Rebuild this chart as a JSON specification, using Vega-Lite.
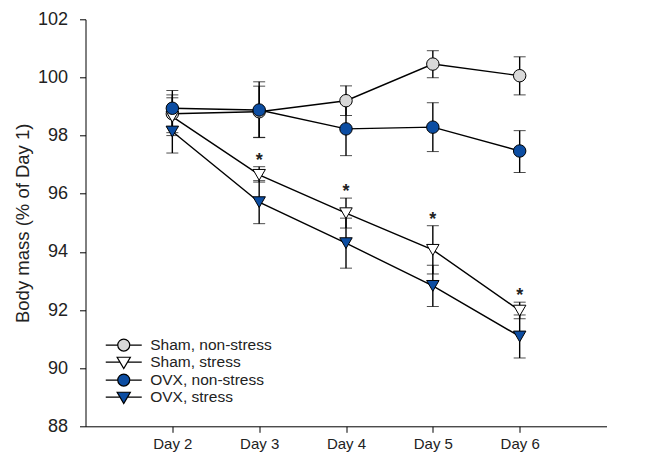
{
  "$schema": "https://vega.github.io/schema/vega-lite/v6.json",
  "width": 521,
  "height": 407,
  "autosize": "none",
  "padding": {"left": 85.5, "top": 19.3, "right": 57.5, "bottom": 27.7},
  "background": "white",
  "config": {
    "view": {"stroke": null},
    "font": "Liberation Sans",
    "axis": {"domainColor": "black", "tickColor": "black", "labelColor": "#222", "titleColor": "#222", "grid": false, "labelFont": "Liberation Sans", "titleFont": "Liberation Sans"},
    "legend": {"labelFont": "Liberation Sans", "symbolStrokeColor": "black", "symbolStrokeWidth": 1.2}
  },
  "data": {
    "values": [
      {"series": "Sham, non-stress", "day": 2, "mean": 98.75, "lo": 98.10, "hi": 99.40, "sig": ""},
      {"series": "Sham, non-stress", "day": 3, "mean": 98.82, "lo": 97.94, "hi": 99.70, "sig": ""},
      {"series": "Sham, non-stress", "day": 4, "mean": 99.20, "lo": 98.69, "hi": 99.71, "sig": ""},
      {"series": "Sham, non-stress", "day": 5, "mean": 100.46, "lo": 99.99, "hi": 100.92, "sig": ""},
      {"series": "Sham, non-stress", "day": 6, "mean": 100.06, "lo": 99.40, "hi": 100.71, "sig": ""},
      {"series": "Sham, stress", "day": 2, "mean": 98.65, "lo": 98.00, "hi": 99.30, "sig": ""},
      {"series": "Sham, stress", "day": 3, "mean": 96.65, "lo": 96.40, "hi": 96.93, "sig": "*"},
      {"series": "Sham, stress", "day": 4, "mean": 95.33, "lo": 94.82, "hi": 95.85, "sig": "*"},
      {"series": "Sham, stress", "day": 5, "mean": 94.07, "lo": 93.24, "hi": 94.90, "sig": "*"},
      {"series": "Sham, stress", "day": 6, "mean": 91.98, "lo": 91.70, "hi": 92.27, "sig": "*"},
      {"series": "OVX, stress", "day": 2, "mean": 98.14, "lo": 97.40, "hi": 98.88, "sig": ""},
      {"series": "OVX, stress", "day": 3, "mean": 95.71, "lo": 94.97, "hi": 96.45, "sig": ""},
      {"series": "OVX, stress", "day": 4, "mean": 94.30, "lo": 93.44, "hi": 95.16, "sig": ""},
      {"series": "OVX, stress", "day": 5, "mean": 92.83, "lo": 92.12, "hi": 93.54, "sig": ""},
      {"series": "OVX, stress", "day": 6, "mean": 91.09, "lo": 90.35, "hi": 91.83, "sig": ""},
      {"series": "OVX, non-stress", "day": 2, "mean": 98.94, "lo": 98.30, "hi": 99.55, "sig": ""},
      {"series": "OVX, non-stress", "day": 3, "mean": 98.88, "lo": 97.93, "hi": 99.85, "sig": ""},
      {"series": "OVX, non-stress", "day": 4, "mean": 98.23, "lo": 97.31, "hi": 99.15, "sig": ""},
      {"series": "OVX, non-stress", "day": 5, "mean": 98.29, "lo": 97.45, "hi": 99.13, "sig": ""},
      {"series": "OVX, non-stress", "day": 6, "mean": 97.47, "lo": 96.73, "hi": 98.17, "sig": ""}
    ]
  },
  "encoding": {
    "x": {
      "field": "day", "type": "quantitative",
      "scale": {"domain": [1, 7], "nice": false, "zero": false},
      "axis": {"title": null, "values": [2, 3, 4, 5, 6], "labelExpr": "'Day ' + datum.value", "tickSize": 6, "labelPadding": 4, "labelFontSize": 15, "grid": false}
    }
  },
  "resolve": {"scale": {"shape": "independent"}, "legend": {"shape": "independent", "fill": "independent"}},
  "layer": [
    {
      "mark": {"type": "line", "color": "black", "strokeWidth": 1.4},
      "encoding": {
        "y": {
          "field": "mean", "type": "quantitative", "title": "Body mass (% of Day 1)",
          "scale": {"domain": [88, 102], "nice": false, "zero": false},
          "axis": {"title": "Body mass (% of Day 1)", "values": [88, 90, 92, 94, 96, 98, 100, 102], "tickSize": 6, "labelPadding": 12, "labelFontSize": 18, "titleFontSize": 18.5, "titleFontWeight": "normal", "titlePadding": 5}
        },
        "detail": {"field": "series"}
      }
    },
    {
      "mark": {"type": "errorbar", "ticks": {"size": 12, "color": "black", "strokeWidth": 1.4}, "rule": {"color": "black", "strokeWidth": 1.4}},
      "encoding": {
        "y": {"field": "lo", "type": "quantitative", "title": "Body mass (% of Day 1)"},
        "y2": {"field": "hi"},
        "detail": {"field": "series"}
      }
    },
    {
      "mark": {"type": "point", "filled": true, "stroke": "black", "strokeWidth": 1, "opacity": 1, "size": 155},
      "encoding": {
        "y": {"field": "mean", "type": "quantitative", "title": "Body mass (% of Day 1)"},
        "fill": {
          "field": "series", "type": "nominal",
          "scale": {"domain": ["Sham, non-stress", "Sham, stress", "OVX, non-stress", "OVX, stress"], "range": ["#d9d9d9", "#ffffff", "#0c4da2", "#0c4da2"]},
          "legend": null
        },
        "shape": {
          "field": "series", "type": "nominal",
          "scale": {"domain": ["Sham, non-stress", "Sham, stress", "OVX, non-stress", "OVX, stress"], "range": ["circle", "triangle-down", "circle", "triangle-down"]},
          "legend": null
        }
      }
    },
    {
      "transform": [{"filter": "datum.day > 100"}],
      "mark": {"type": "point", "filled": true, "stroke": "black", "strokeWidth": 1.2, "opacity": 1, "size": 144},
      "encoding": {
        "y": {"field": "mean", "type": "quantitative", "title": "Body mass (% of Day 1)"},
        "fill": {
          "field": "series", "type": "nominal",
          "scale": {"domain": ["Sham, non-stress", "Sham, stress", "OVX, non-stress", "OVX, stress"], "range": ["#d9d9d9", "#ffffff", "#0c4da2", "#0c4da2"]},
          "legend": {
            "title": null, "orient": "none", "legendX": 30.5, "legendY": 318,
            "symbolSize": 144, "symbolStrokeColor": "black", "symbolStrokeWidth": 1.2, "symbolOpacity": 1,
            "labelFontSize": 15.5, "labelColor": "#222", "labelOffset": 18.7, "rowPadding": 0, "padding": 0,
            "encode": {"symbols": {"update": {"stroke": {"value": "black"}, "strokeWidth": {"value": 1.2}}}}
          }
        },
        "shape": {
          "field": "series", "type": "nominal",
          "scale": {"domain": ["Sham, non-stress", "Sham, stress", "OVX, non-stress", "OVX, stress"], "range": ["M-3,0H-1M1,0H3M1,0A1,1 0 1,1 -1,0A1,1 0 1,1 1,0Z", "M-3,0H-0.62M0.62,0H3M-1.1,-0.8L1.1,-0.8L0,1.1Z", "M-3,0H-1M1,0H3M1,0A1,1 0 1,1 -1,0A1,1 0 1,1 1,0Z", "M-3,0H-0.62M0.62,0H3M-1.1,-0.8L1.1,-0.8L0,1.1Z"]},
          "legend": {
            "title": null, "orient": "none", "legendX": 30.5, "legendY": 318,
            "symbolSize": 144, "symbolStrokeColor": "black", "symbolStrokeWidth": 1.2, "symbolOpacity": 1,
            "labelFontSize": 15.5, "labelColor": "#222", "labelOffset": 18.7, "rowPadding": 0, "padding": 0,
            "encode": {"symbols": {"update": {"stroke": {"value": "black"}, "strokeWidth": {"value": 1.2}}}}
          }
        }
      }
    },
    {
      "mark": {"type": "text", "fontSize": 18, "fontWeight": "bold", "color": "#222", "baseline": "middle", "dy": -6},
      "encoding": {
        "y": {"field": "hi", "type": "quantitative", "title": "Body mass (% of Day 1)"},
        "text": {"field": "sig"}
      }
    }
  ]
}
